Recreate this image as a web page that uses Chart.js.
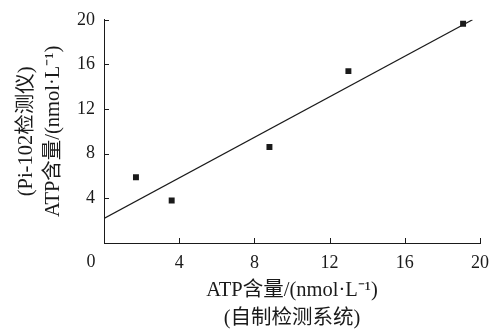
<!DOCTYPE html>
<html>
<head>
<meta charset="utf-8">
<script src="https://cdn.jsdelivr.net/npm/chart.js@4"></script>
<style>
  html, body { margin: 0; padding: 0; background: #fff; }
  #wrap { width: 498px; height: 329px; }
</style>
</head>
<body>
<div id="wrap"><canvas id="chart"></canvas></div>
<script>
// measured points (自制检测系统 vs Pi-102检测仪)
const selfMade = [1.7, 3.6, 8.8, 13.0, 19.1]
const pi102 = [5.9, 3.8, 8.6, 15.4, 19.65]
// fitted line ends
const fitX = [0, 19.6]
const fitY = [2.2, 20.0]

const xTicks = [0, 4, 8, 12, 16, 20]
const yTicks = [4, 8, 12, 16, 20]

const xTitle = ["ATP含量/(nmol·L⁻¹)", "(自制检测系统)"]
const yTitle = ["(Pi-102检测仪)", "ATP含量/(nmol·L⁻¹)"]

const ink = "#1a1a1a"
const serif = "'Liberation Serif', 'Noto Sans CJK SC', serif"

// ticks point inward, and the shared "0" sits left of the origin
const innerTicks = {
  id: "innerTicks",
  afterDraw(chart) {
    const { ctx, scales: { x, y } } = chart
    ctx.save()
    ctx.strokeStyle = ink
    ctx.lineWidth = 1
    ctx.beginPath()
    xTicks.forEach(v => {
      if (v === 0) return
      const px = Math.round(x.getPixelForValue(v)) + 0.5
      ctx.moveTo(px, y.bottom)
      ctx.lineTo(px, y.bottom - 5)
    })
    yTicks.forEach(v => {
      const py = Math.round(y.getPixelForValue(v)) + 0.5
      ctx.moveTo(x.left, py)
      ctx.lineTo(x.left + 5, py)
    })
    ctx.stroke()
    ctx.fillStyle = ink
    ctx.font = "18px " + serif
    ctx.textAlign = "center"
    ctx.textBaseline = "middle"
    ctx.fillText("0", x.left - 13, y.bottom + 19)
    ctx.restore()
  },
}

new Chart(document.getElementById("chart"), {
  type: "scatter",
  data: {
    datasets: [
      {
        label: "points",
        data: selfMade.map((v, i) => ({ x: v, y: pi102[i] })),
        pointStyle: "rect",
        pointRadius: 4.2,
        pointBackgroundColor: ink,
        pointBorderWidth: 0,
      },
      {
        label: "fit",
        type: "line",
        data: fitX.map((v, i) => ({ x: v, y: fitY[i] })),
        borderColor: ink,
        borderWidth: 1.3,
        pointRadius: 0,
        fill: false,
      },
    ],
  },
  options: {
    responsive: true,
    maintainAspectRatio: false,
    animation: false,
    layout: { padding: { top: 17, right: 16, left: 0, bottom: 0 } },
    plugins: { legend: { display: false }, tooltip: { enabled: false } },
    scales: {
      x: {
        type: "linear",
        min: 0,
        max: 20,
        afterBuildTicks: s => { s.ticks = xTicks.map(v => ({ value: v })) },
        afterFit: s => { s.height = 86 },
        grid: { display: true, drawOnChartArea: false, drawTicks: false },
        border: { display: true, color: ink, width: 1 },
        ticks: {
          color: ink,
          padding: 9,
          font: { family: serif, size: 18 },
          callback: v => (v === 0 ? "" : v),
        },
        title: {
          display: true,
          text: xTitle,
          color: ink,
          font: { family: serif, size: 20.5, lineHeight: 1.33 },
          padding: { top: 0, bottom: -3 },
        },
      },
      y: {
        type: "linear",
        min: 0,
        max: 20,
        afterBuildTicks: s => { s.ticks = yTicks.map(v => ({ value: v })) },
        afterFit: s => { s.width = 104 },
        grid: { display: true, drawOnChartArea: false, drawTicks: false },
        border: { display: true, color: ink, width: 1 },
        ticks: {
          color: ink,
          padding: 9,
          font: { family: serif, size: 18 },
        },
        title: {
          display: true,
          text: yTitle,
          color: ink,
          font: { family: serif, size: 20.5, lineHeight: 1.33 },
          padding: { top: 13, bottom: 0 },
        },
      },
    },
  },
  plugins: [innerTicks],
})
</script>
</body>
</html>
